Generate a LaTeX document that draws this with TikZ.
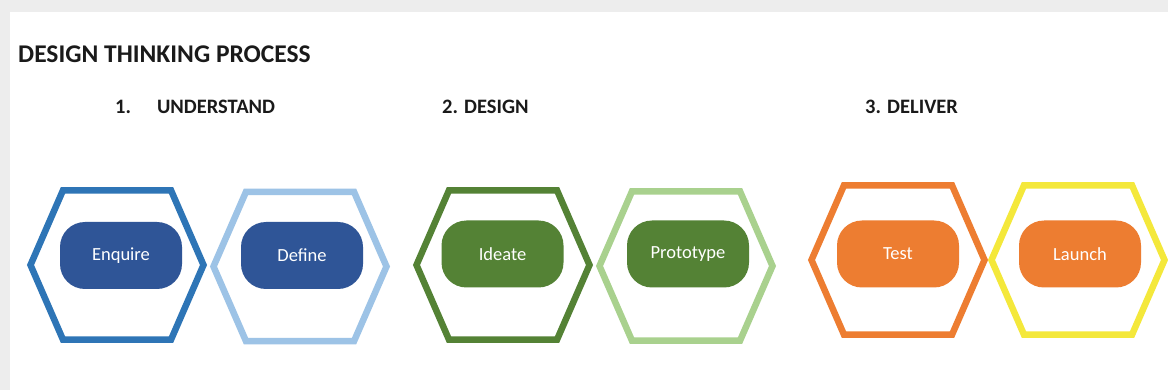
\documentclass[tikz,border=0pt]{standalone}
\usepackage{fontspec}
\setmainfont{Carlito}
\usepackage{tikz}
\usetikzlibrary{positioning}

\definecolor{pageGray}{HTML}{EDEDED}
\definecolor{inkBlack}{HTML}{1A1A1A}
\definecolor{hexBlue}{HTML}{2E75B6}
\definecolor{hexSky}{HTML}{9DC3E6}
\definecolor{pillBlue}{HTML}{2F5597}
\definecolor{hexGreen}{HTML}{548235}
\definecolor{hexLime}{HTML}{A9D18E}
\definecolor{pillGreen}{HTML}{548235}
\definecolor{hexOrange}{HTML}{ED7D31}
\definecolor{hexYellow}{HTML}{F4E83B}
\definecolor{pillOrange}{HTML}{ED7D31}

\begin{document}
\begin{tikzpicture}[x=1pt,y=-1pt]
\tikzset{
  title/.style={font=\fontsize{25.5}{30}\selectfont\bfseries, text=inkBlack, anchor=base west, inner sep=0pt},
  stage/.style={font=\fontsize{20.5}{24}\selectfont\bfseries, text=inkBlack, anchor=base west, inner sep=0pt},
  pill/.style={rounded corners=25pt, minimum width=122pt, minimum height=67pt, inner sep=0pt,
    text=white, font=\fontsize{18.5}{22}\selectfont},
  hexa/.pic={
    \draw[line width=6.5pt, line join=miter]
      (-86.5,0) -- (-54,-74.7) -- (54,-74.7) -- (86.5,0) -- (54,74.7) -- (-54,74.7) -- cycle;
  }
}
  % page
  \fill[pageGray] (0,0) rectangle (1168,390);
  \fill[white] (10,12) rectangle (1168,390);
  \useasboundingbox (0,0) rectangle (1168,390);

  % headings
  \node[title] (title) at (18,63) {DESIGN THINKING PROCESS};
  \node[stage] (understand) at (115,114) {1.\hspace{26pt}UNDERSTAND};
  \node[stage] (design) at (442,114) {2. DESIGN};
  \node[stage] (deliver) at (865,114) {3. DELIVER};

  % hexagon outlines
  \pic[color=hexBlue] (hexEnquire) at (117,265) {hexa};
  \pic[color=hexSky] (hexDefine) at (300,266.5) {hexa};
  \pic[color=hexGreen] (hexIdeate) at (503,265) {hexa};
  \pic[color=hexLime] (hexPrototype) at (686,266) {hexa};
  \pic[color=hexOrange] (hexTest) at (898,260) {hexa};
  \pic[color=hexYellow] (hexLaunch) at (1078,260) {hexa};

  % steps
  \node[pill, fill=pillBlue] (enquire) at (121,255.5) {Enquire};
  \node[pill, fill=pillBlue] (define) at (302,255.5) {Define};
  \node[pill, fill=pillGreen] (ideate) at (502.5,254) {Ideate};
  \node[pill, fill=pillGreen] (prototype) at (688,254) {Prototype};
  \node[pill, fill=pillOrange] (test) at (898,254) {Test};
  \node[pill, fill=pillOrange] (launch) at (1080,254) {Launch};
\end{tikzpicture}
\end{document}
